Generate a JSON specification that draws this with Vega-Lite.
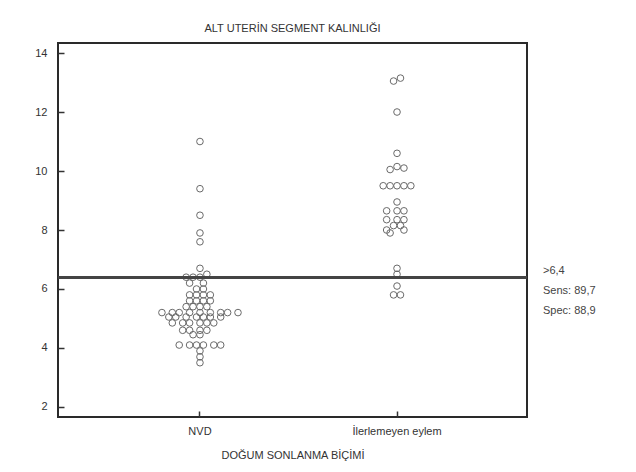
{
  "$schema": "https://vega.github.io/schema/vega-lite/v6.json",
  "autosize": "none",
  "width": 469,
  "height": 374,
  "padding": {"left": 58, "top": 43, "right": 109, "bottom": 55},
  "background": "white",
  "config": {
    "font": "Liberation Sans",
    "view": {"stroke": "#2a2a2a", "strokeWidth": 2},
    "axis": {"labelFont": "Liberation Sans", "titleFont": "Liberation Sans", "labelFontSize": 11, "titleFontSize": 11, "titleFontWeight": "normal", "labelColor": "#333", "titleColor": "#333", "grid": false, "domain": false, "tickColor": "#333", "tickWidth": 1.5}
  },
  "title": {"text": "ALT UTERİN SEGMENT KALINLIĞI", "fontSize": 11, "fontWeight": "normal", "color": "#333", "font": "Liberation Sans", "offset": 9},
  "data": {"values": [
    {"grup": "NVD", "deger": 11.0, "k": 0},
    {"grup": "NVD", "deger": 9.4, "k": 0},
    {"grup": "NVD", "deger": 8.5, "k": 0},
    {"grup": "NVD", "deger": 7.9, "k": 0},
    {"grup": "NVD", "deger": 7.6, "k": 0},
    {"grup": "NVD", "deger": 6.7, "k": 0},
    {"grup": "NVD", "deger": 6.5, "k": 2},
    {"grup": "NVD", "deger": 6.4, "k": -4},
    {"grup": "NVD", "deger": 6.4, "k": -2},
    {"grup": "NVD", "deger": 6.4, "k": 0},
    {"grup": "NVD", "deger": 6.2, "k": -3},
    {"grup": "NVD", "deger": 6.2, "k": 1},
    {"grup": "NVD", "deger": 6.0, "k": -1},
    {"grup": "NVD", "deger": 6.0, "k": 1},
    {"grup": "NVD", "deger": 5.8, "k": -3},
    {"grup": "NVD", "deger": 5.8, "k": -1},
    {"grup": "NVD", "deger": 5.8, "k": 1},
    {"grup": "NVD", "deger": 5.8, "k": 3},
    {"grup": "NVD", "deger": 5.6, "k": -3},
    {"grup": "NVD", "deger": 5.6, "k": -1},
    {"grup": "NVD", "deger": 5.6, "k": 1},
    {"grup": "NVD", "deger": 5.6, "k": 3},
    {"grup": "NVD", "deger": 5.4, "k": -4},
    {"grup": "NVD", "deger": 5.4, "k": -2},
    {"grup": "NVD", "deger": 5.4, "k": 0},
    {"grup": "NVD", "deger": 5.4, "k": 2},
    {"grup": "NVD", "deger": 5.2, "k": -11},
    {"grup": "NVD", "deger": 5.2, "k": -8},
    {"grup": "NVD", "deger": 5.2, "k": -6},
    {"grup": "NVD", "deger": 5.2, "k": -3},
    {"grup": "NVD", "deger": 5.2, "k": 0},
    {"grup": "NVD", "deger": 5.2, "k": 3},
    {"grup": "NVD", "deger": 5.2, "k": 6},
    {"grup": "NVD", "deger": 5.2, "k": 8},
    {"grup": "NVD", "deger": 5.2, "k": 11},
    {"grup": "NVD", "deger": 5.05, "k": -9},
    {"grup": "NVD", "deger": 5.05, "k": -7},
    {"grup": "NVD", "deger": 5.05, "k": -4},
    {"grup": "NVD", "deger": 5.05, "k": -1},
    {"grup": "NVD", "deger": 5.05, "k": 1},
    {"grup": "NVD", "deger": 5.05, "k": 3},
    {"grup": "NVD", "deger": 5.05, "k": 6},
    {"grup": "NVD", "deger": 4.85, "k": -8},
    {"grup": "NVD", "deger": 4.85, "k": -5},
    {"grup": "NVD", "deger": 4.85, "k": -3},
    {"grup": "NVD", "deger": 4.85, "k": 0},
    {"grup": "NVD", "deger": 4.85, "k": 2},
    {"grup": "NVD", "deger": 4.85, "k": 4},
    {"grup": "NVD", "deger": 4.6, "k": -5},
    {"grup": "NVD", "deger": 4.6, "k": -3},
    {"grup": "NVD", "deger": 4.6, "k": 0},
    {"grup": "NVD", "deger": 4.6, "k": 2},
    {"grup": "NVD", "deger": 4.45, "k": -2},
    {"grup": "NVD", "deger": 4.45, "k": 0},
    {"grup": "NVD", "deger": 4.1, "k": -6},
    {"grup": "NVD", "deger": 4.1, "k": -3},
    {"grup": "NVD", "deger": 4.1, "k": -1},
    {"grup": "NVD", "deger": 4.1, "k": 1},
    {"grup": "NVD", "deger": 4.1, "k": 4},
    {"grup": "NVD", "deger": 4.1, "k": 6},
    {"grup": "NVD", "deger": 3.9, "k": 0},
    {"grup": "NVD", "deger": 3.7, "k": 0},
    {"grup": "NVD", "deger": 3.5, "k": 0},
    {"grup": "İlerlemeyen eylem", "deger": 13.05, "k": -1},
    {"grup": "İlerlemeyen eylem", "deger": 13.15, "k": 1},
    {"grup": "İlerlemeyen eylem", "deger": 12.0, "k": 0},
    {"grup": "İlerlemeyen eylem", "deger": 10.6, "k": 0},
    {"grup": "İlerlemeyen eylem", "deger": 10.05, "k": -2},
    {"grup": "İlerlemeyen eylem", "deger": 10.15, "k": 0},
    {"grup": "İlerlemeyen eylem", "deger": 10.1, "k": 2},
    {"grup": "İlerlemeyen eylem", "deger": 9.5, "k": -4},
    {"grup": "İlerlemeyen eylem", "deger": 9.5, "k": -2},
    {"grup": "İlerlemeyen eylem", "deger": 9.5, "k": 0},
    {"grup": "İlerlemeyen eylem", "deger": 9.5, "k": 2},
    {"grup": "İlerlemeyen eylem", "deger": 9.5, "k": 4},
    {"grup": "İlerlemeyen eylem", "deger": 8.95, "k": 0},
    {"grup": "İlerlemeyen eylem", "deger": 8.65, "k": -3},
    {"grup": "İlerlemeyen eylem", "deger": 8.65, "k": 0},
    {"grup": "İlerlemeyen eylem", "deger": 8.65, "k": 2},
    {"grup": "İlerlemeyen eylem", "deger": 8.35, "k": -3},
    {"grup": "İlerlemeyen eylem", "deger": 8.35, "k": 0},
    {"grup": "İlerlemeyen eylem", "deger": 8.35, "k": 2},
    {"grup": "İlerlemeyen eylem", "deger": 8.15, "k": -1},
    {"grup": "İlerlemeyen eylem", "deger": 8.15, "k": 1},
    {"grup": "İlerlemeyen eylem", "deger": 8.0, "k": -3},
    {"grup": "İlerlemeyen eylem", "deger": 8.0, "k": 2},
    {"grup": "İlerlemeyen eylem", "deger": 7.9, "k": -2},
    {"grup": "İlerlemeyen eylem", "deger": 6.7, "k": 0},
    {"grup": "İlerlemeyen eylem", "deger": 6.5, "k": 0},
    {"grup": "İlerlemeyen eylem", "deger": 6.1, "k": 0},
    {"grup": "İlerlemeyen eylem", "deger": 5.8, "k": -1},
    {"grup": "İlerlemeyen eylem", "deger": 5.8, "k": 1}
  ]},
  "layer": [
    {
      "mark": {"type": "point", "shape": "circle", "filled": false, "size": 44, "stroke": "#6a6a6a", "strokeWidth": 1, "opacity": 1},
      "encoding": {
        "x": {"field": "grup", "type": "nominal", "sort": null,
              "scale": {"type": "band", "domain": ["NVD", "İlerlemeyen eylem"], "paddingInner": 0, "paddingOuter": 0.19, "align": 0.58},
              "axis": {"title": "DOĞUM SONLANMA BİÇİMİ", "labelAngle": 0, "tickSize": -6, "labelPadding": 14, "titlePadding": 13, "tickBand": "center"}},
        "xOffset": {"field": "k", "type": "quantitative", "scale": {"domain": [-28.5, 28.5]}},
        "y": {"field": "deger", "type": "quantitative",
              "scale": {"domain": [1.66, 14.34], "nice": false, "zero": false},
              "axis": {"title": null, "values": [2, 4, 6, 8, 10, 12, 14], "tickSize": -6, "labelPadding": 17}}
      }
    },
    {
      "mark": {"type": "rule", "color": "#444", "strokeWidth": 2},
      "encoding": {"y": {"datum": 6.4}}
    },
    {
      "data": {"values": [{"etiket": [">6,4", "Sens: 89,7", "Spec: 88,9"]}]},
      "mark": {"type": "text", "x": {"expr": "width"}, "dx": 16, "dy": -12, "align": "left", "baseline": "top", "fontSize": 11, "lineHeight": 20, "color": "#444", "font": "Liberation Sans"},
      "encoding": {"text": {"field": "etiket"}, "y": {"datum": 6.4}}
    }
  ]
}
